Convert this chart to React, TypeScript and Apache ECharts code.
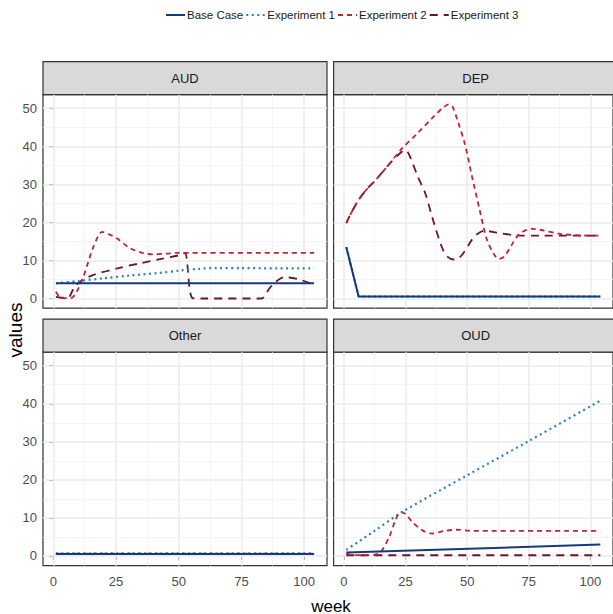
import React, { useEffect, useRef } from "react";
import * as echarts from "echarts";

const seriesNames = ["Base Case", "Experiment 1", "Experiment 2", "Experiment 3"];
const panelNames = ["AUD", "DEP", "Other", "OUD"];
const yBreaks = [0, 10, 20, 30, 40, 50];
const yMinor = [5, 15, 25, 35, 45];
const xBreaks = [0, 25, 50, 75, 100];
const xMinor = [12.5, 37.5, 62.5, 87.5];

// AUD
const audBase = [[1, 4], [104, 4]];
const audExp1 = [[1, 4.0], [10, 4.6], [20, 5.3], [30, 6.0], [42, 6.7], [50, 7.3], [58, 7.8], [65, 8.0], [75, 8.0], [90, 7.9], [104, 7.9]];
const audExp2 = [[1, 1.8], [2.5, 0.3], [4, 0.1], [7, 0.1], [9, 1.4], [12, 5.8], [16, 13.6], [19.5, 17.5], [22, 16.9], [25.3, 15.8], [30.6, 13.2], [35.9, 11.9], [40, 11.6], [45, 11.8], [50, 12], [104, 12]];
const audExp3 = [[1, 0.4], [3, 0.2], [6, 0.3], [8, 2.5], [11, 4.6], [16, 6.2], [26, 8], [35, 9.3], [43, 10.4], [51, 11.5], [52.5, 12], [55.5, 0.1], [60, 0], [83, 0], [86, 2.5], [88, 4], [92, 5.6], [98, 5], [104, 3.6]];

// DEP
const depBase = [[1, 13.5], [6, 0.5], [104, 0.5]];
const depExp1 = [[1, 13.5], [6, 0.5], [104, 0.5]];
const depExp2 = [[1, 19.8], [3, 22.5], [6.4, 26.3], [10, 29.2], [13, 31.2], [18, 35], [23.7, 39.5], [30, 43.5], [36, 47.5], [40, 50], [42.5, 51], [44, 50.5], [46, 47], [49, 40.8], [52, 32], [55, 23.5], [58, 15.5], [61, 11.5], [63, 10.4], [65, 11], [68, 14], [70.3, 16.3], [73, 17.7], [76.3, 18.3], [80, 18], [87.6, 17], [95, 16.6], [104, 16.5]];
const depExp3 = [[1, 19.8], [3, 22.5], [6.4, 26.3], [10, 29.2], [13, 31.2], [18, 35], [23, 38.3], [25, 39], [27, 37], [30, 32], [33, 27.7], [36, 21], [39.7, 13.6], [42, 11], [45, 10.2], [48, 11.5], [51.9, 15.4], [54, 16.9], [57, 17.8], [62, 17.3], [70, 16.6], [80, 16.5], [104, 16.5]];

// Other
const otherBase = [[1, 0.55], [104, 0.55]];
const otherExp1 = [[1, 0.7], [104, 0.7]];
const otherExp2 = [[1, 0.6], [104, 0.6]];
const otherExp3 = [[1, 0.55], [104, 0.55]];

// OUD
const oudBase = [[1, 0.9], [104, 3.0]];
const oudExp1 = [[1, 1.6], [12, 6.4], [24, 11.7], [50, 21.2], [75, 30.2], [104, 40.8]];
const oudExp2 = [[1, 0.6], [3, 0.3], [8, 0.2], [13, 0.4], [15, 1], [18.4, 5], [21, 9.5], [23, 11.6], [25, 11], [27.7, 9], [31.7, 6.8], [35.7, 5.9], [41, 6.6], [45.7, 6.9], [51.7, 6.6], [104, 6.6]];
const oudExp3 = [[1, 0.2], [104, 0.2]];

const panelData = [
  [audBase, audExp1, audExp2, audExp3],
  [depBase, depExp1, depExp2, depExp3],
  [otherBase, otherExp1, otherExp2, otherExp3],
  [oudBase, oudExp1, oudExp2, oudExp3],
];

const lineStyles = [
  { color: "#15397A", type: "solid", width: 2 },
  { color: "#2C7FC3", type: [2, 3.5], width: 2.2 },
  { color: "#C1232F", type: [5, 4], width: 1.8 },
  { color: "#6B1527", type: [8, 6], width: 1.8 },
];

const SANS = "'Liberation Sans', Arial, sans-serif";
const PW = 284;
const PH = 213.5;
const STRIP = 33;
const panels = [
  { left: 43, top: 94.7 },
  { left: 333.6, top: 94.7 },
  { left: 43, top: 352.2 },
  { left: 333.6, top: 352.2 },
];
const X_MIN = -4.15, X_MAX = 109.15, Y_MIN = -2.55, Y_MAX = 53.55;

export default function App() {
  const ref = useRef<HTMLDivElement>(null);
  useEffect(() => {
    const chart = echarts.init(ref.current!, null, { renderer: "svg" });
    const major = { color: "#EBEBEB", width: 1.5, type: "solid" };
    const minor = { color: "#F3F3F3", width: 0.8, type: "solid" };
    const series: any[] = [];
    panels.forEach((p, i) => {
      series.push({
        type: "line",
        xAxisIndex: i,
        yAxisIndex: i,
        data: [],
        silent: true,
        z: 1,
        markLine: {
          silent: true,
          z: 1,
          symbol: ["none", "none"],
          label: { show: false },
          emphasis: { disabled: true },
          data: [
            ...yMinor.map((v) => ({ yAxis: v, lineStyle: minor })),
            ...xMinor.map((v) => ({ xAxis: v, lineStyle: minor })),
            ...yBreaks.map((v) => ({ yAxis: v, lineStyle: major })),
            ...xBreaks.map((v) => ({ xAxis: v, lineStyle: major })),
          ],
        },
      });
      panelData[i].forEach((d, k) => {
        series.push({
          type: "line",
          name: seriesNames[k],
          xAxisIndex: i,
          yAxisIndex: i,
          data: d,
          showSymbol: false,
          symbol: "none",
          smooth: d.length > 4 ? 0.3 : false,
          clip: false,
          z: 3 + (3 - k),
          color: lineStyles[k].color,
          lineStyle: { ...lineStyles[k], cap: "butt" },
          emphasis: { disabled: true },
        });
      });
    });

    const graphics: any[] = [];
    panels.forEach((p, i) => {
      graphics.push({
        type: "rect",
        shape: { x: p.left, y: p.top - STRIP, width: PW, height: STRIP },
        style: { fill: "#D9D9D9", stroke: "#333333", lineWidth: 1.2 },
      });
      graphics.push({
        type: "text",
        x: p.left + PW / 2,
        y: p.top - STRIP / 2,
        style: {
          text: panelNames[i],
          fontFamily: SANS,
          fontSize: 13,
          fill: "#1A1A1A",
          align: "center",
          verticalAlign: "middle",
        },
      });
    });
    graphics.push({
      type: "text",
      x: 15,
      y: 330,
      rotation: Math.PI / 2,
      style: {
        text: "values",
        fontFamily: SANS,
        fontSize: 19,
        fill: "#000",
        align: "center",
        verticalAlign: "middle",
      },
    });
    graphics.push({
      type: "text",
      x: 331,
      y: 606,
      style: {
        text: "week",
        fontFamily: SANS,
        fontSize: 17,
        fill: "#000",
        align: "center",
        verticalAlign: "middle",
      },
    });

    chart.setOption({
      animation: false,
      backgroundColor: "#fff",
      legend: {
        data: seriesNames,
        top: 4,
        left: 160,
        itemWidth: 19,
        itemHeight: 10,
        itemGap: 2,
        itemStyle: { opacity: 0 },
        textStyle: { fontFamily: SANS, fontSize: 11.5, color: "#1A1A1A", padding: [0, 0, 0, -3] },
      },
      grid: panels.map((p) => ({
        left: p.left,
        top: p.top,
        width: PW,
        height: PH,
        show: true,
        borderColor: "#333333",
        borderWidth: 1.2,
        backgroundColor: "#fff",
        containLabel: false,
      })),
      xAxis: panels.map((p, i) => ({
        type: "value",
        gridIndex: i,
        min: X_MIN,
        max: X_MAX,
        splitLine: { show: false },
        axisLine: { show: false },
        axisTick: { show: i >= 2, length: 4, lineStyle: { color: "#333" }, customValues: xBreaks },
        axisLabel: {
          show: i >= 2,
          customValues: xBreaks,
          color: "#4D4D4D",
          fontFamily: SANS,
          fontSize: 13,
          margin: 9,
          formatter: (v: number) => (xBreaks.includes(v) ? String(v) : ""),
        },
      })),
      yAxis: panels.map((p, i) => ({
        type: "value",
        gridIndex: i,
        min: Y_MIN,
        max: Y_MAX,
        splitLine: { show: false },
        axisLine: { show: false },
        axisTick: { show: i % 2 === 0, length: 4, lineStyle: { color: "#333" }, customValues: yBreaks },
        axisLabel: {
          show: i % 2 === 0,
          customValues: yBreaks,
          color: "#4D4D4D",
          fontFamily: SANS,
          fontSize: 13,
          margin: 6,
          formatter: (v: number) => (yBreaks.includes(v) ? String(v) : ""),
        },
      })),
      series,
      graphic: graphics,
    });
    return () => chart.dispose();
  }, []);
  return (
    <div
      ref={ref}
      style={{ position: "fixed", left: 0, top: 0, width: 613, height: 614 }}
    />
  );
}
